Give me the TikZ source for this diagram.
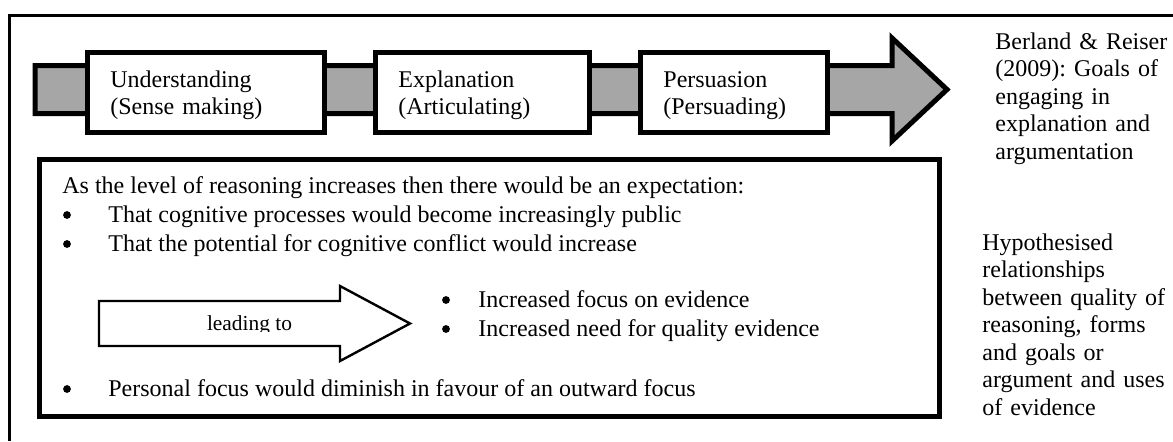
\documentclass[tikz,border=0pt]{standalone}
\usepackage{fontspec}
\setmainfont{Liberation Serif}
\definecolor{shaftgray}{gray}{0.65}
\begin{document}
\frenchspacing
\begin{tikzpicture}[x=0.5pt,y=-0.5pt,
  outerframe/.style={line width=1.1pt},
  flowarrow/.style={draw=black, fill=shaftgray, line width=2.5pt, miter limit=10},
  stagebox/.style={draw=black, fill=white, line width=2.5pt, rectangle, inner sep=0pt},
  hintarrow/.style={draw=black, fill=white, line width=1.2pt, miter limit=10},
  txt/.style={inner sep=0pt, anchor=base west, font=\fontsize{12pt}{13.75pt}\selectfont},
  block/.style={txt, text width=#1, align=left},
  bul/.style={circle, fill=black, inner sep=0pt, minimum size=3.9pt},
  small/.style={inner sep=0pt, anchor=base, font=\fontsize{10.7pt}{12pt}\selectfont}]
\useasboundingbox (0,0) rectangle (1173,441);

% outer frame (top and left edges)
\draw[outerframe] (9.5,441) -- (9.5,15.5) -- (1173,15.5);

% progression arrow behind the three stages
\draw[flowarrow] (35,65.5) -- (892,65.5) -- (892,38) -- (947,89.5)
  -- (892,141) -- (892,113.5) -- (35,113.5) -- cycle;

% stage boxes
\node[stagebox, minimum width=118.5pt, minimum height=40pt] (s1) at (206,92.5) {};
\node[stagebox, minimum width=107pt, minimum height=40pt] (s2) at (482.5,92.5) {};
\node[stagebox, minimum width=93.5pt, minimum height=40pt] (s3) at (734,92.5) {};
\node[block=110pt] (s1t) at (110,87) {Understanding\\(Sense making)};
\node[block=100pt] (s2t) at (398,87) {Explanation\\(Articulating)};
\node[block=90pt] (s3t) at (663,87) {Persuasion\\(Persuading)};

% side notes
\node[block=100pt] (goals) at (995,49)
  {Berland \& Reiser\\(2009): Goals of\\engaging in\\explanation and\\argumentation};
\node[block=100pt] (hypo) at (982,250)
  {Hypothesised\\relationships\\between quality of\\reasoning, forms\\and goals or\\argument and uses\\of evidence};

% expectations box
\node[stagebox, minimum width=450pt, minimum height=128.5pt] (exp) at (489.5,288) {};
\node[txt] (intro) at (62,193)
  {As the level of reasoning increases then there would be an expectation:};
\node[bul] (b1) at (67,215) {};
\node[txt] (t1) at (108,222) {That cognitive processes would become increasingly public};
\node[bul] (b2) at (67,244) {};
\node[txt] (t2) at (108,251) {That the potential for cognitive conflict would increase};

% "leading to" arrow
\draw[hintarrow] (99,301) -- (340,301) -- (340,286) -- (410,323.5)
  -- (340,361) -- (340,346) -- (99,346) -- cycle;
\begin{scope}
  \clip (100,300) rectangle (339,331.5);
  \node[small] (lead) at (249.5,330) {leading to};
\end{scope}

\node[bul] (b3) at (446,300) {};
\node[txt] (t3) at (478,307) {Increased focus on evidence};
\node[bul] (b4) at (446,329) {};
\node[txt] (t4) at (478,336) {Increased need for quality evidence};

\node[bul] (b5) at (67,389) {};
\node[txt] (t5) at (108,396) {Personal focus would diminish in favour of an outward focus};
\end{tikzpicture}
\end{document}
